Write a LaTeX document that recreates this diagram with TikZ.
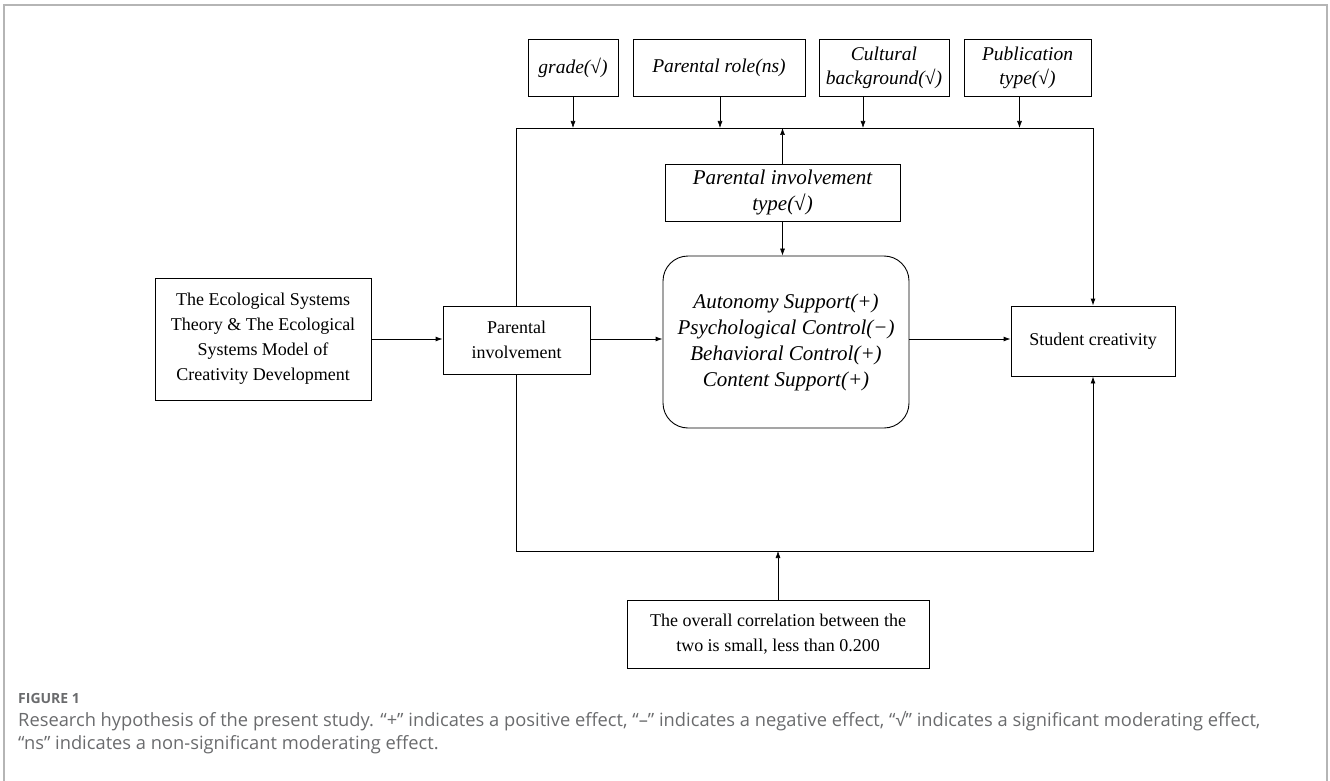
\documentclass[tikz,border=0pt]{standalone}
\usepackage{fontspec}
\setmainfont{Liberation Serif}
\newfontfamily\capfont{Open Sans}
\usetikzlibrary{arrows.meta}
\definecolor{framegray}{HTML}{B5B5B5}
\definecolor{capgray}{HTML}{6A6B6D}

\begin{document}
\begin{tikzpicture}[x=1pt, y=-1pt, >={Latex[length=7pt,width=5pt]},
  box/.style={draw, line width=0.9pt, inner sep=0pt, align=center,
    font=\fontsize{18}{25}\selectfont},
  modbox/.style={box, minimum height=57pt,
    font=\itshape\fontsize{19.5}{24}\selectfont},
  bigitalic/.style={box, font=\itshape\fontsize{21}{26}\selectfont},
  capline/.style={anchor=base west, inner sep=0pt, text=capgray,
    font=\capfont\fontsize{18.3}{22}\selectfont}]

\useasboundingbox (0,0) rectangle (1330,781);

% Grey frame round the figure
\draw[framegray, line width=2pt] (4,781) -- (4,5) -- (1327,5) -- (1327,781);

% Moderator boxes on top
\node[modbox, minimum width=90pt] (grade) at (573,67.5) {grade(√)};
\node[modbox, minimum width=172pt] (role) at (719,67.5) {Parental role(ns)};
\node[modbox, minimum width=130pt] (culture) at (884,67.5) {Cultural\\background(√)};
\node[modbox, minimum width=127pt] (pubtype) at (1027.5,67.5) {Publication\\type(√)};

% Involvement type and its dimensions
\node[bigitalic, minimum width=235pt, minimum height=57pt] (pitype) at (782.5,192.5)
  {Parental involvement\\type(√)};
\node[bigitalic, minimum width=246pt, minimum height=172pt, rounded corners=25pt] (dims) at (786,342)
  {Autonomy Support(+)\\Psychological Control(−)\\Behavioral Control(+)\\Content Support(+)};

% Main chain
\node[box, minimum width=216pt, minimum height=122pt] (theory) at (263,339)
  {The Ecological Systems\\Theory \& The Ecological\\Systems Model of\\Creativity Development};
\node[box, minimum width=147pt, minimum height=68pt] (pinv) at (516.5,340) {Parental\\involvement};
\node[box, minimum width=164pt, minimum height=70pt] (creat) at (1093,341) {Student creativity};
\node[box, minimum width=302pt, minimum height=68pt] (corr) at (778,634)
  {The overall correlation between the\\two is small, less than 0.200};

% Corners of the loop round the model
\coordinate (tl) at (pinv.north |- 0,128);
\coordinate (tr) at (creat.north |- 0,128);
\coordinate (bl) at (pinv.south |- 0,551);
\coordinate (br) at (creat.south |- 0,551);

% Draw the loop
\draw[line width=0.9pt, ->] (pinv.north) -- (tl) -- (tr) -- (creat.north);
\draw[line width=0.9pt, ->] (pinv.south) -- (bl) -- (br) -- (creat.south);

% Draw the arrows
\draw[line width=0.9pt, ->] (theory.east |- 0,339) -- (pinv.west |- 0,339);
\draw[line width=0.9pt, ->] (pinv.east |- 0,339) -- (dims.west |- 0,339);
\draw[line width=0.9pt, ->] (dims.east |- 0,339) -- (creat.west |- 0,339);
\draw[line width=0.6pt, ->] (grade.south) -- (grade.south |- tl);
\draw[line width=0.6pt, ->] ([xshift=1pt]role.south) -- ([xshift=1pt]role.south |- tl);
\draw[line width=0.6pt, ->] ([xshift=-21pt]culture.south) -- ([xshift=-21pt]culture.south |- tl);
\draw[line width=0.6pt, ->] ([xshift=-8pt]pubtype.south) -- ([xshift=-8pt]pubtype.south |- tl);
\draw[line width=0.6pt, ->] (pitype.north) -- (pitype.north |- tl);
\draw[line width=0.6pt, ->] (pitype.south) -- (pitype.south |- dims.north);
\draw[line width=0.6pt, ->] (corr.north) -- (corr.north |- bl);

% Caption
\node[capline, font=\capfont\bfseries\fontsize{14}{16}\selectfont] (fig) at (18,703) {FIGURE 1};
\node[capline] (cap1) at (18,726) {Research hypothesis of the present study. “+” indicates a positive effect, “–” indicates a negative effect, “√” indicates a significant moderating effect,};
\node[capline] (cap2) at (18,749) {“ns” indicates a non-significant moderating effect.};

\end{tikzpicture}
\end{document}
